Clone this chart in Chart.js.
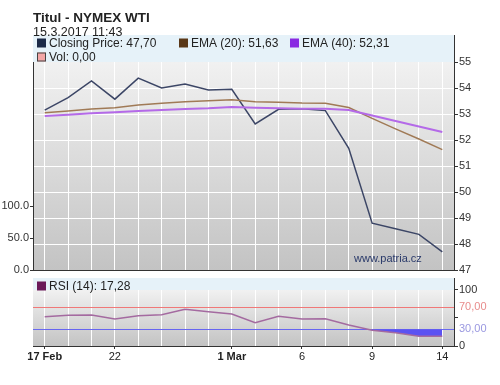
<!DOCTYPE html>
<html>
<head>
<meta charset="utf-8">
<script src="https://cdn.jsdelivr.net/npm/chart.js@4.4.1/dist/chart.umd.min.js"></script>
<style>
  html, body { margin:0; padding:0; background:#fff; width:500px; height:385px; overflow:hidden; }
  #title { position:absolute; left:33px; top:10px; font:bold 13.5px "Liberation Sans", Arial, sans-serif; color:#222; }
  #stamp { position:absolute; left:33px; top:25px; font:12.5px "Liberation Sans", Arial, sans-serif; color:#222; }
  #c1 { position:absolute; left:0; top:0; }
  #c2 { position:absolute; left:0; top:270px; }
</style>
</head>
<body>
<canvas id="c1" width="500" height="280"></canvas>
<canvas id="c2" width="500" height="115"></canvas>
<div id="title">Titul - NYMEX WTI</div>
<div id="stamp">15.3.2017 11:43</div>
<script>
// ---- data ----
const dates = ['17 Feb','20 Feb','21 Feb','22 Feb','23 Feb','24 Feb','27 Feb','28 Feb','1 Mar','2 Mar','3 Mar','6 Mar','7 Mar','8 Mar','9 Mar','10 Mar','13 Mar','14 Mar'];
const tickLabels = {0:'17 Feb', 3:'22', 8:'1 Mar', 11:'6', 14:'9', 17:'14'};
const boldTicks = [0, 8];
const closePrice = [53.15, 53.63, 54.27, 53.57, 54.38, 54.00, 54.15, 53.92, 53.95, 52.62, 53.18, 53.20, 53.13, 51.68, 48.80, 48.59, 48.37, 47.70];
const ema20 = [53.05, 53.12, 53.19, 53.24, 53.35, 53.41, 53.47, 53.51, 53.55, 53.47, 53.45, 53.42, 53.41, 53.25, 52.83, 52.43, 52.04, 51.63];
const ema40 = [52.92, 52.97, 53.03, 53.07, 53.12, 53.15, 53.19, 53.22, 53.27, 53.24, 53.22, 53.20, 53.20, 53.15, 52.94, 52.73, 52.52, 52.31];
const volume = [0, 0, 0, 0, 0, 0, 0, 0, 0, 0, 0, 0, 0, 0, 0, 0, 0, 0];
const rsi = [52.3, 54.8, 55.4, 48.2, 54.2, 55.9, 65.5, 61.3, 57.1, 41.6, 53.0, 48.2, 48.8, 37.5, 28.0, 23.8, 17.3, 17.28];
const priceTicks = [47, 48, 49, 50, 51, 52, 53, 54, 55];
const volTicks = [0, 50, 100];
const rsiTicks = [0, 30, 50, 70, 100];
const rsiLevels = [70, 30];
const mainLegend = [
  {text:'Closing Price: 47,70', color:'#1c2a48', row:0, x:37},
  {text:'EMA (20): 51,63', color:'#5a3818', row:0, x:179},
  {text:'EMA (40): 52,31', color:'#8a2be2', row:0, x:290},
  {text:'Vol: 0,00', color:'#f4a6a6', row:1, x:37, border:'#444'}
];
const rsiLegend = [{text:'RSI (14): 17,28', color:'#6a1a5a', row:0, x:37}];

const FONT = '"Liberation Sans", Arial, sans-serif';

function panelPlugin(id, bandH, legend, levels, levelColors) {
  return {
    id: id,
    beforeDraw(chart) {
      const a = chart.chartArea, c = chart.ctx;
      const g = c.createLinearGradient(0, a.top + bandH, 0, a.bottom);
      g.addColorStop(0, '#f1f1f1');
      g.addColorStop(1, '#c3c3c3');
      c.save();
      c.fillStyle = g;
      c.fillRect(a.left, a.top + bandH, a.right - a.left, a.bottom - a.top - bandH);
      c.restore();
    },
    beforeDatasetsDraw(chart) {
      const a = chart.chartArea, c = chart.ctx;
      c.save();
      c.fillStyle = '#e6f2f9';
      c.fillRect(a.left, a.top, a.right - a.left, bandH);
      if (levels) {
        const ys = chart.scales.y;
        levels.forEach((lv, i) => {
          const y = Math.round(ys.getPixelForValue(lv)) + 0.5;
          c.strokeStyle = levelColors[i];
          c.lineWidth = 1;
          c.beginPath(); c.moveTo(a.left, y); c.lineTo(a.right, y); c.stroke();
        });
      }
      c.font = '12px ' + FONT;
      c.textBaseline = 'middle';
      legend.forEach(l => {
        const cy = a.top + 8 + l.row * 14;
        c.fillStyle = l.color;
        c.fillRect(l.x, cy - 4.5, 9, 9);
        if (l.border) { c.strokeStyle = l.border; c.lineWidth = 1; c.strokeRect(l.x + 0.5, cy - 4, 8, 8); }
        c.fillStyle = '#222';
        c.fillText(l.text, l.x + 12, cy + 0.5);
      });
      c.restore();
    },
    afterDraw(chart) {
      if (id !== 'main') return;
      const c = chart.ctx;
      c.save();
      c.font = '11px ' + FONT;
      c.fillStyle = '#2a3a6a';
      c.textBaseline = 'middle';
      c.fillText('www.patria.cz', 354, 259);
      c.restore();
    }
  };
}

const xCommon = (showLabels) => ({
  type: 'category',
  offset: true,
  grid: { offset: false, color: '#ffffff', lineWidth: 1, drawTicks: showLabels, tickLength: 3,
          tickColor: (ctx) => (tickLabels[ctx.index] !== undefined ? '#333' : 'rgba(0,0,0,0)') },
  border: { display: true, color: '#333', width: 1 },
  ticks: {
    display: showLabels, autoSkip: false, maxRotation: 0, padding: 1, color: '#222',
    font: (ctx) => ({ family: FONT, size: 11, weight: boldTicks.includes(ctx.index) ? 'bold' : 'normal' }),
    callback: (v, i) => (tickLabels[i] !== undefined ? tickLabels[i] : '')
  }
});

// ---- main price chart ----
new Chart(document.getElementById('c1'), {
  type: 'line',
  data: {
    labels: dates,
    datasets: [
      { label: 'EMA (40)', data: ema40, borderColor: '#b46ae8', borderWidth: 2, pointRadius: 0, tension: 0, yAxisID: 'y' },
      { label: 'EMA (20)', data: ema20, borderColor: '#a07a56', borderWidth: 1.5, pointRadius: 0, tension: 0, yAxisID: 'y' },
      { label: 'Closing Price', data: closePrice, borderColor: '#3c4666', borderWidth: 1.5, pointRadius: 0, tension: 0, yAxisID: 'y' },
      { label: 'Vol', type: 'bar', data: volume, backgroundColor: '#f4a6a6', yAxisID: 'yv' }
    ]
  },
  options: {
    responsive: false, animation: false, devicePixelRatio: 1,
    layout: { padding: { top: 35, left: 0, right: 0, bottom: 0 } },
    plugins: { legend: { display: false }, tooltip: { enabled: false } },
    scales: {
      x: Object.assign(xCommon(false), { afterFit: (s) => { s.height = 10; } }),
      y: {
        position: 'right', min: 47, max: 47 + 235 / 26,
        afterBuildTicks: (s) => { s.ticks = priceTicks.map(v => ({ value: v })); },
        afterFit: (s) => { s.width = 46; },
        grid: { color: (ctx) => ((ctx.tick && (ctx.tick.value === 55 || ctx.tick.value === 47)) ? 'rgba(0,0,0,0)' : '#ffffff'),
                lineWidth: 1, drawTicks: true, tickLength: 4, tickColor: '#333' },
        border: { display: true, color: '#333', width: 1 },
        ticks: { color: '#333', padding: 1, font: { family: FONT, size: 11 }, callback: (v) => String(v) }
      },
      yv: {
        position: 'left', min: 0, max: 235 / 0.64,
        afterBuildTicks: (s) => { s.ticks = volTicks.map(v => ({ value: v })); },
        afterFit: (s) => { s.width = 33; },
        grid: { drawOnChartArea: false, drawTicks: true, tickLength: 3, tickColor: '#333' },
        border: { display: true, color: '#333', width: 1 },
        ticks: { color: '#333', padding: 1, font: { family: FONT, size: 11 }, callback: (v) => v.toFixed(1) }
      }
    }
  },
  plugins: [panelPlugin('main', 27, mainLegend)]
});

// ---- RSI chart ----
new Chart(document.getElementById('c2'), {
  type: 'line',
  data: {
    labels: dates,
    datasets: [
      { label: 'RSI (14)', data: rsi, borderColor: '#a46aa0', borderWidth: 1.5, pointRadius: 0, tension: 0,
        fill: { target: { value: 30 }, above: 'rgba(0,0,0,0)', below: '#5b52f2' } }
    ]
  },
  options: {
    responsive: false, animation: false, devicePixelRatio: 1,
    layout: { padding: { top: 8, left: 33, right: 0, bottom: 0 } },
    plugins: { legend: { display: false }, tooltip: { enabled: false } },
    scales: {
      x: Object.assign(xCommon(true), { afterFit: (s) => { s.height = 39; } }),
      y: {
        position: 'right', min: 0, max: 68 / 0.56,
        afterBuildTicks: (s) => { s.ticks = rsiTicks.map(v => ({ value: v })); },
        afterFit: (s) => { s.width = 46; },
        grid: { drawOnChartArea: false, drawTicks: true, tickLength: 4,
                tickColor: (ctx) => ((ctx.tick && (ctx.tick.value === 30 || ctx.tick.value === 70)) ? 'rgba(0,0,0,0)' : '#333') },
        border: { display: true, color: '#333', width: 1 },
        ticks: {
          padding: 1, font: { family: FONT, size: 11 },
          color: (ctx) => (ctx.tick.value === 70 ? '#e88c8c' : ctx.tick.value === 30 ? '#9a98e0' : '#333'),
          callback: (v) => (v === 70 ? '70,00' : v === 30 ? '30,00' : v === 50 ? '' : String(v))
        }
      }
    }
  },
  plugins: [panelPlugin('rsi', 12, rsiLegend, rsiLevels, ['#f07878', '#6a6af0'])]
});
</script>
</body>
</html>
